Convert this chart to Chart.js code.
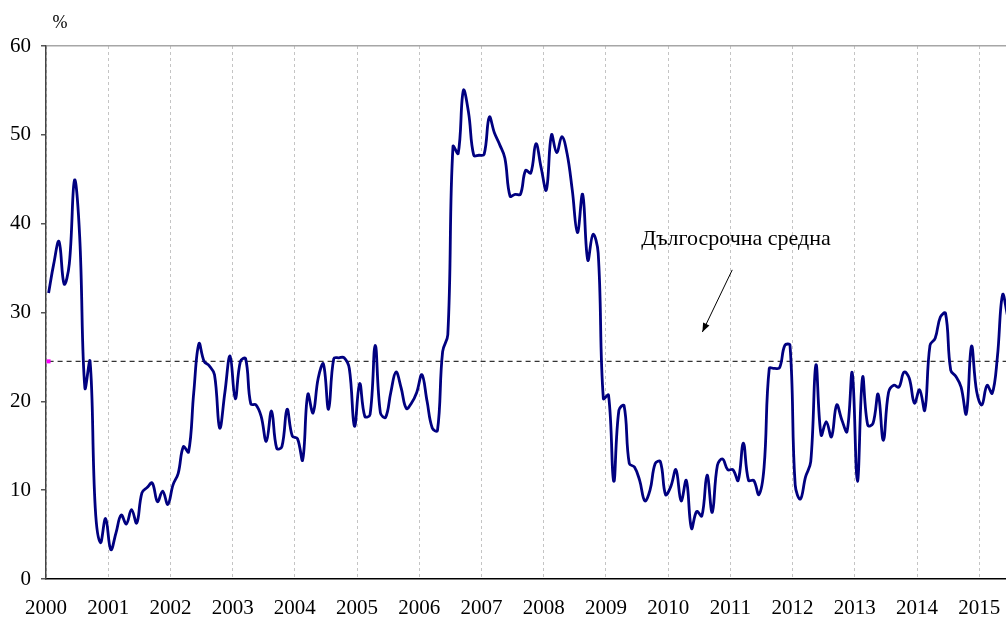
<!DOCTYPE html>
<html>
<head>
<meta charset="utf-8">
<script src="https://cdn.jsdelivr.net/npm/chart.js@4/dist/chart.umd.min.js"></script>
<style>
  html, body { margin: 0; padding: 0; background: #fff; }
  #wrap { width: 1006px; height: 619px; }
</style>
</head>
<body>
<div id="wrap"><canvas id="chart" width="1006" height="619"></canvas></div>
<script>
// monthly series, Jan 2000 .. Jun 2015 (%)
const startYear = 2000;
const values = [
  32.2, 35.5, 38.0, 33.2, 35.5, 44.9, 38.5, 21.5, 24.5, 8.0, 4.1, 6.8,
  3.3, 5.2, 7.2, 6.2, 7.8, 6.3, 9.7, 10.3, 10.8, 8.7, 9.9, 8.4,
  10.6, 11.9, 14.9, 14.3, 21.0, 26.5, 24.5, 24.0, 23.0, 17.0, 21.0, 25.1,
  20.3, 24.5, 24.8, 19.7, 19.6, 18.3, 15.5, 18.9, 14.7, 14.9, 19.1, 16.1,
  15.8, 13.4, 20.8, 18.7, 22.6, 24.2, 19.1, 24.8, 24.9, 24.9, 23.7, 17.2,
  22.0, 18.3, 18.5, 26.3, 18.7, 18.2, 21.0, 23.3, 21.5, 19.2, 19.8, 21.0,
  23.0, 20.0, 17.0, 16.7, 25.6, 27.5, 48.7, 47.9, 55.0, 52.5, 47.7, 47.7,
  47.8, 52.0, 50.2, 48.9, 47.4, 43.1, 43.3, 43.3, 46.0, 45.7, 49.0, 46.3,
  43.8, 50.0, 48.0, 49.8, 47.9, 43.8, 39.0, 43.3, 35.9, 38.8, 36.7, 20.3,
  20.7, 11.0, 19.0, 19.5, 13.0, 12.6, 11.1, 8.8, 10.0, 13.0, 13.2, 9.5,
  10.4, 12.3, 8.8, 11.1, 5.7, 7.6, 7.1, 11.7, 7.5, 12.8, 13.5, 12.3,
  12.3, 11.1, 15.3, 11.1, 11.1, 9.5, 12.6, 23.7, 23.7, 23.8, 26.3, 26.3,
  10.6, 9.0, 11.5, 13.2, 24.1, 16.2, 17.7, 16.0, 19.6, 17.9, 16.6, 23.2,
  11.0, 22.7, 17.3, 17.5, 20.8, 15.6, 21.0, 21.8, 21.6, 23.3, 22.6, 19.8,
  21.3, 19.0, 26.3, 27.1, 29.5, 29.9, 23.5, 22.8, 21.6, 18.6, 26.2, 21.1,
  19.6, 21.8, 20.9, 25.0, 32.0, 29.5
];
const longTermAverage = 24.5;
const yearTicks = [2000, 2001, 2002, 2003, 2004, 2005, 2006, 2007, 2008, 2009, 2010, 2011, 2012, 2013, 2014, 2015];
const xMax = 2015.43;
const avgLabel = "Дългосрочна средна";
const unitLabel = "%";

const serif = "'Liberation Serif', 'Times New Roman', serif";

// month i is plotted at the middle of the month
const seriesPoints = values.map((v, i) => ({ x: startYear + (i + 0.5) / 12, y: v }));
const avgPoints = [
  { x: startYear + 0.5 / 12, y: longTermAverage },
  { x: xMax, y: longTermAverage }
];

// text, arrow, unit label and the small marker on the average line
const notes = {
  id: "notes",
  afterDraw(chart) {
    const { ctx, chartArea, scales } = chart;
    const xs = scales.x, ys = scales.y;
    ctx.save();
    ctx.fillStyle = "#000";
    ctx.font = "18px " + serif;
    ctx.textAlign = "center";
    ctx.textBaseline = "middle";
    ctx.fillText(unitLabel, chartArea.left + 14, chartArea.top - 23);

    ctx.font = "22px " + serif;
    ctx.fillText(avgLabel, xs.getPixelForValue(2011.09), ys.getPixelForValue(38.3));

    // arrow
    const x1 = xs.getPixelForValue(2011.03), y1 = ys.getPixelForValue(34.8);
    const x2 = xs.getPixelForValue(2010.55), y2 = ys.getPixelForValue(27.8);
    ctx.strokeStyle = "#000";
    ctx.lineWidth = 1;
    ctx.beginPath();
    ctx.moveTo(x1, y1);
    ctx.lineTo(x2, y2);
    ctx.stroke();
    const a = Math.atan2(y2 - y1, x2 - x1);
    const len = 9, half = 3.5;
    ctx.beginPath();
    ctx.moveTo(x2, y2);
    ctx.lineTo(x2 - len * Math.cos(a) + half * Math.sin(a), y2 - len * Math.sin(a) - half * Math.cos(a));
    ctx.lineTo(x2 - len * Math.cos(a) - half * Math.sin(a), y2 - len * Math.sin(a) + half * Math.cos(a));
    ctx.closePath();
    ctx.fill();

    // magenta start marker
    const mx = xs.getPixelForValue(avgPoints[0].x), my = ys.getPixelForValue(longTermAverage);
    ctx.fillStyle = "#ff00ff";
    ctx.fillRect(mx - 2, my - 2, 4, 4);
    ctx.restore();
  }
};

new Chart(document.getElementById("chart"), {
  type: "line",
  data: {
    datasets: [
      {
        data: seriesPoints,
        borderColor: "#000080",
        borderWidth: 2.8,
        pointRadius: 0,
        tension: 0.4,
        fill: false,
        order: 0
      },
      {
        data: avgPoints,
        borderColor: "#333",
        borderWidth: 1.2,
        borderDash: [5, 4],
        pointRadius: 0,
        fill: false,
        order: 1
      }
    ]
  },
  options: {
    responsive: false,
    animation: false,
    devicePixelRatio: 1,
    layout: { padding: { top: 46, right: 0, left: 0, bottom: 0 } },
    plugins: { legend: { display: false }, tooltip: { enabled: false } },
    scales: {
      x: {
        type: "linear",
        min: startYear,
        max: xMax,
        afterBuildTicks: (s) => { s.ticks = yearTicks.map((v) => ({ value: v })); },
        afterFit: (s) => { s.height = 40; s.paddingRight = 0; s.paddingLeft = 0; },
        ticks: {
          color: "#000",
          font: { family: serif, size: 21 },
          padding: 17,
          maxRotation: 0,
          autoSkip: false,
          callback: (v) => String(v)
        },
        grid: {
          color: "#c4c4c4",
          lineWidth: 1,
          drawTicks: false
        },
        border: { color: "#000", width: 1.5, dash: [3, 3] }
      },
      y: {
        min: 0,
        max: 60,
        afterFit: (s) => { s.width = 46; },
        ticks: {
          stepSize: 10,
          color: "#000",
          font: { family: serif, size: 21 },
          padding: 10
        },
        grid: {
          color: (c) => (c.tick && c.tick.value === 60 ? "#a6a6a6" : "rgba(0,0,0,0)"),
          lineWidth: 1.5,
          tickColor: "#555",
          tickLength: 5
        },
        border: { color: "#444", width: 1.5 }
      }
    }
  },
  plugins: [notes]
});
</script>
</body>
</html>
